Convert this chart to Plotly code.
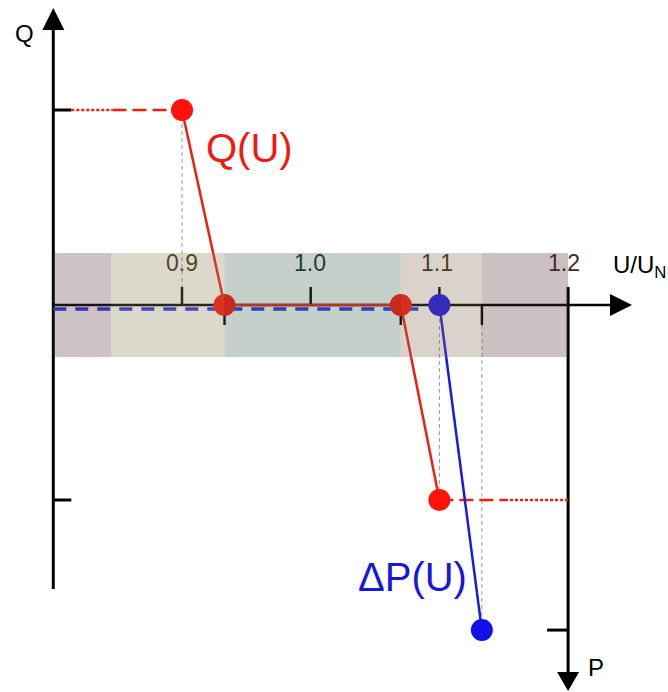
import plotly.graph_objects as go

# U/UN axis ticks
u_ticks = [0.9, 1.0, 1.1, 1.2]
u_tick_text = ["0.9", "1.0", "1.1", "1.2"]
u_ticks_up = [0.9, 1.0, 1.1]
u_ticks_down = [0.933, 1.07, 1.133]

# Q(U) characteristic
q_u = [0.9, 0.933, 1.07, 1.1]
q_val = [1.0, 0.0, 0.0, -1.0]

# dP(U) characteristic
p_u = [1.1, 1.133]
p_val = [0.0, -1.667]
p_zero_u = [0.8, 1.09]

q_max, q_min = 1.0, -1.0
p_min = -1.667
u_left, u_right = 0.8, 1.2

# shaded tolerance band
zone_edges = [0.8, 0.845, 0.933, 1.07, 1.133, 1.2]
zone_colors = ["rgb(88,55,65)", "rgb(142,125,85)", "rgb(62,98,78)",
               "rgb(132,108,82)", "rgb(88,48,55)"]
band_q = 0.267

W, H = 668, 692
PX_U, PX_Q = 1287.0, 195.0   # pixels per unit
X09, Y0 = 182, 305           # pixel of U=0.9 and of Q=0


def du(px):
    return px / PX_U


def dq(px):
    return px / PX_Q


def ux(px):
    return 0.9 + (px - X09) / PX_U


def qy(py):
    return (Y0 - py) / PX_Q


fig = go.Figure()


def seg(x, y, color, width, dash="solid"):
    fig.add_trace(go.Scatter(x=x, y=y, mode="lines", hoverinfo="skip",
                             line=dict(color=color, width=width, dash=dash)))


def tri(x, y, color):
    fig.add_trace(go.Scatter(x=x, y=y, mode="lines", fill="toself", fillcolor=color,
                             line=dict(color=color, width=0), hoverinfo="skip"))


# gray guide lines
guide = "#9a9a9a"
seg([q_u[0], q_u[0]], [q_max, 0], guide, 1, "4px,3px")
seg([p_u[0], p_u[0]], [0, q_min], guide, 1, "4px,3px")
seg([p_u[1], p_u[1]], [-dq(20), p_min], guide, 1, "4px,3px")

# axes
seg([u_left, u_left], [qy(589), qy(30)], "black", 3)
tri([u_left - du(11), u_left, u_left + du(11), u_left - du(11)],
    [qy(30), qy(8), qy(30), qy(30)], "black")
seg([u_left, ux(610)], [0, 0], "black", 2.5)
tri([ux(610), ux(632), ux(610), ux(610)],
    [dq(11), 0, -dq(11), dq(11)], "black")
seg([u_right, u_right], [dq(18), qy(672)], "black", 3)
tri([u_right - du(11), u_right, u_right + du(11), u_right - du(11)],
    [qy(672), qy(691), qy(672), qy(672)], "black")

# tick marks
for u in u_ticks_up:
    seg([u, u], [0, dq(18)], "black", 2.5)
for u in u_ticks_down:
    seg([u, u], [0, -dq(20)], "black", 2.5)
for q in [q_max, q_min]:
    seg([u_left, u_left + du(18)], [q, q], "black", 3)
seg([u_right - du(21), u_right], [p_min, p_min], "black", 3)

# red limit extensions
red = "#f01e0c"
seg([u_left + du(18), 0.846], [q_max, q_max], red, 2.5, "3px,2px")
seg([0.846, q_u[0]], [q_max, q_max], red, 2.5, "14px,6px")
seg([q_u[-1], 1.151], [q_min, q_min], red, 2.5, "14px,6px")
seg([1.151, u_right], [q_min, q_min], red, 2.5, "3px,2px")

# dP zero (dashed blue)
blue = "#1a1ae0"
seg(p_zero_u, [-0.02, -0.02], "#2233e0", 3.5, "13px,9px")

# characteristics
fig.add_trace(go.Scatter(x=q_u, y=q_val, mode="lines+markers", hoverinfo="skip",
                         line=dict(color=red, width=2.5),
                         marker=dict(color="#ff1208", size=22)))
fig.add_trace(go.Scatter(x=p_u, y=p_val, mode="lines+markers", hoverinfo="skip",
                         line=dict(color=blue, width=2.5),
                         marker=dict(color="#1010e8", size=22)))

# band overlay
shapes = []
for i, c in enumerate(zone_colors):
    shapes.append(dict(type="rect", xref="x", yref="y",
                       x0=zone_edges[i], x1=zone_edges[i + 1], y0=-band_q, y1=band_q,
                       fillcolor=c, opacity=0.3, line=dict(width=0), layer="above"))

font = "Arial, Liberation Sans, sans-serif"
label_colors = ["rgb(80,70,40)", "rgb(30,62,45)", "rgb(75,60,40)", "rgb(62,45,45)"]
annotations = []
for u, t, c, sh in zip(u_ticks, u_tick_text, label_colors, [0, -1, -2, -4]):
    annotations.append(dict(x=u, y=qy(263), text=t, showarrow=False, xshift=sh,
                            font=dict(size=23, color=c, family=font)))
annotations += [
    dict(x=ux(24), y=qy(33), text="Q", showarrow=False,
         font=dict(size=24, color="black", family=font)),
    dict(x=ux(611), y=qy(266), text="U/U<sub>N</sub>", showarrow=False,
         xanchor="left", font=dict(size=24, color="black", family=font)),
    dict(x=ux(596), y=qy(667), text="P", showarrow=False,
         font=dict(size=24, color="black", family=font)),
    dict(x=ux(249), y=qy(148), text="Q(U)", showarrow=False,
         font=dict(size=40, color="#ee1c10", family=font)),
    dict(x=ux(412), y=qy(577), text="ΔP(U)", showarrow=False,
         font=dict(size=40, color="#1818d8", family=font)),
]

fig.update_layout(
    width=W, height=H,
    margin=dict(l=0, r=0, t=0, b=0),
    paper_bgcolor="white", plot_bgcolor="white",
    showlegend=False,
    shapes=shapes, annotations=annotations,
    xaxis=dict(range=[ux(0), ux(W)], visible=False, fixedrange=True),
    yaxis=dict(range=[qy(H), qy(0)], visible=False, fixedrange=True),
)

# drop the page's default body margin so the figure fills the window exactly
fig.write_html("out.html", config={"displayModeBar": False},
               post_script="document.body.style.margin='0';document.body.style.overflow='hidden';")
